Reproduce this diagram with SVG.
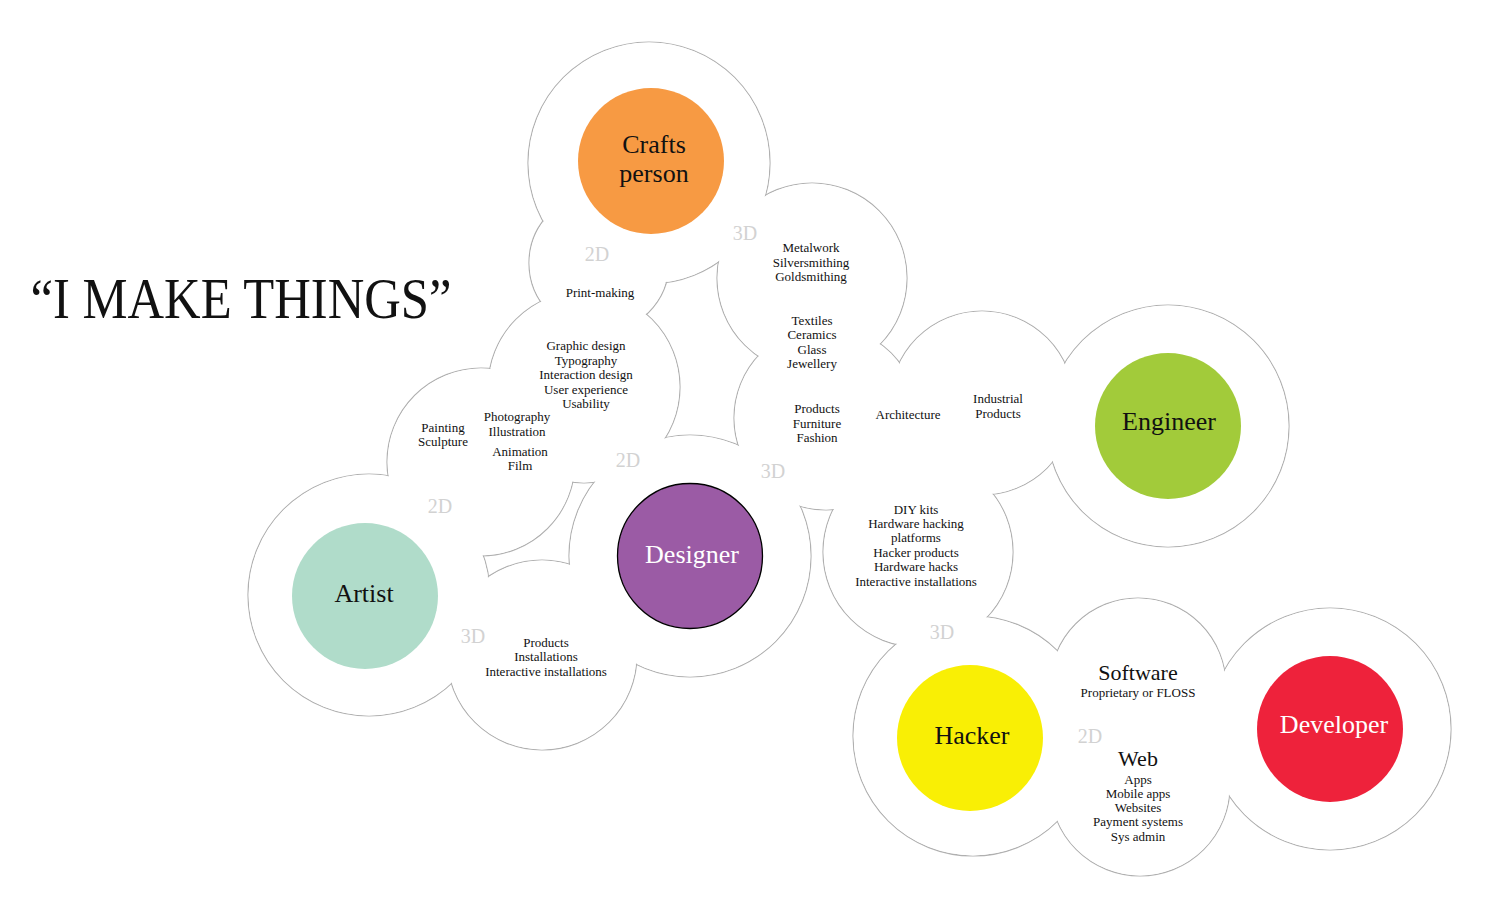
<svg xmlns="http://www.w3.org/2000/svg" width="1497" height="918" viewBox="0 0 1497 918">
<style>
text{font-family:"Liberation Serif","DejaVu Serif",serif;text-anchor:middle;fill:#111}
.o{fill:none;stroke:#b0b0b0;stroke-width:1.2}
.f{fill:#fff;stroke:none}
.lbl{font-size:26px}
.w{fill:#fff}
.sm{font-size:13px}
.md{font-size:22px}
.dim{font-size:20px;fill:#d2d2d2}
</style>
<rect width="1497" height="918" fill="#fff"/>
<g id="cloud">
<g id="cloud-stroke" class="o">
<circle cx="649" cy="163" r="121"/>
<circle cx="369" cy="595" r="121"/>
<circle cx="690" cy="556" r="121"/>
<circle cx="1168" cy="426" r="121"/>
<circle cx="973" cy="736" r="120"/>
<circle cx="1330" cy="729" r="121"/>
<circle cx="599" cy="263" r="70"/>
<circle cx="584" cy="387" r="96"/>
<circle cx="481" cy="462" r="94"/>
<circle cx="812" cy="278" r="95"/>
<circle cx="826" cy="418" r="92"/>
<circle cx="982" cy="403" r="92"/>
<circle cx="918" cy="552" r="95"/>
<circle cx="542" cy="655" r="95"/>
<circle cx="1138" cy="686" r="88"/>
<circle cx="1140" cy="786" r="90"/>
</g>
<g id="cloud-fill" class="f">
<circle cx="649" cy="163" r="120.4"/>
<circle cx="369" cy="595" r="120.4"/>
<circle cx="690" cy="556" r="120.4"/>
<circle cx="1168" cy="426" r="120.4"/>
<circle cx="973" cy="736" r="119.4"/>
<circle cx="1330" cy="729" r="120.4"/>
<circle cx="599" cy="263" r="69.4"/>
<circle cx="584" cy="387" r="95.4"/>
<circle cx="481" cy="462" r="93.4"/>
<circle cx="812" cy="278" r="94.4"/>
<circle cx="826" cy="418" r="91.4"/>
<circle cx="982" cy="403" r="91.4"/>
<circle cx="918" cy="552" r="94.4"/>
<circle cx="542" cy="655" r="94.4"/>
<circle cx="1138" cy="686" r="87.4"/>
<circle cx="1140" cy="786" r="89.4"/>
<circle cx="908" cy="457" r="5"/>
</g>
</g>
<g id="connectors"/>
<g id="title"><text x="241" y="318" font-size="56" textLength="421" lengthAdjust="spacingAndGlyphs">“I MAKE THINGS”</text></g>
<g id="crafts-person">
<circle cx="651" cy="161" r="73" fill="#F79A43"/>
<text class="lbl" x="654" y="153">Crafts</text>
<text class="lbl" x="654" y="182">person</text>
</g>
<g id="artist">
<circle cx="365" cy="596" r="73" fill="#B0DCCA"/>
<text class="lbl" x="364" y="602">Artist</text>
</g>
<g id="designer">
<circle cx="690" cy="556" r="72.5" fill="#9B5BA5" stroke="#000" stroke-width="1.3"/>
<text class="lbl w" x="692" y="563">Designer</text>
</g>
<g id="engineer">
<circle cx="1168" cy="426" r="73" fill="#A2CB3A"/>
<text class="lbl" x="1169" y="430">Engineer</text>
</g>
<g id="hacker">
<circle cx="970" cy="738" r="73" fill="#F9EF05"/>
<text class="lbl" x="972" y="744">Hacker</text>
</g>
<g id="developer">
<circle cx="1330" cy="729" r="73" fill="#EE223B"/>
<text class="lbl w" x="1334" y="733">Developer</text>
</g>
<g id="crafts-2d">
<text class="dim" x="597" y="261">2D</text>
<text class="sm" x="600" y="297">Print-making</text>
</g>
<g id="crafts-3d">
<text class="dim" x="745" y="240">3D</text>
<text class="sm" x="811" y="252">Metalwork</text>
<text class="sm" x="811" y="267">Silversmithing</text>
<text class="sm" x="811" y="281">Goldsmithing</text>
<text class="sm" x="812" y="324.5">Textiles</text>
<text class="sm" x="812" y="339">Ceramics</text>
<text class="sm" x="812" y="353.5">Glass</text>
<text class="sm" x="812" y="368">Jewellery</text>
</g>
<g id="designer-3d">
<text class="sm" x="817" y="413">Products</text>
<text class="sm" x="817" y="427.5">Furniture</text>
<text class="sm" x="817" y="442">Fashion</text>
<text class="dim" x="773" y="478">3D</text>
</g>
<g id="engineer-3d">
<text class="sm" x="908" y="418.5">Architecture</text>
<text class="sm" x="998" y="403">Industrial</text>
<text class="sm" x="998" y="417.5">Products</text>
</g>
<g id="designer-2d">
<text class="sm" x="586" y="350">Graphic design</text>
<text class="sm" x="586" y="364.5">Typography</text>
<text class="sm" x="586" y="379">Interaction design</text>
<text class="sm" x="586" y="393.5">User experience</text>
<text class="sm" x="586" y="408">Usability</text>
<text class="dim" x="628" y="467">2D</text>
</g>
<g id="artist-2d">
<text class="sm" x="443" y="432">Painting</text>
<text class="sm" x="443" y="446">Sculpture</text>
<text class="sm" x="517" y="421">Photography</text>
<text class="sm" x="517" y="436">Illustration</text>
<text class="sm" x="520" y="456">Animation</text>
<text class="sm" x="520" y="470">Film</text>
<text class="dim" x="440" y="513">2D</text>
</g>
<g id="artist-3d">
<text class="dim" x="473" y="643">3D</text>
<text class="sm" x="546" y="646.5">Products</text>
<text class="sm" x="546" y="661">Installations</text>
<text class="sm" x="546" y="675.5">Interactive installations</text>
</g>
<g id="hacker-3d">
<text class="sm" x="916" y="513.5">DIY kits</text>
<text class="sm" x="916" y="528">Hardware hacking</text>
<text class="sm" x="916" y="542">platforms</text>
<text class="sm" x="916" y="556.5">Hacker products</text>
<text class="sm" x="916" y="571">Hardware hacks</text>
<text class="sm" x="916" y="585.5">Interactive installations</text>
<text class="dim" x="942" y="639">3D</text>
</g>
<g id="developer-2d">
<text class="md" x="1138" y="680">Software</text>
<text class="sm" x="1138" y="697">Proprietary or FLOSS</text>
<text class="dim" x="1090" y="743">2D</text>
<text class="md" x="1138" y="766">Web</text>
<text class="sm" x="1138" y="783.5">Apps</text>
<text class="sm" x="1138" y="797.5">Mobile apps</text>
<text class="sm" x="1138" y="812">Websites</text>
<text class="sm" x="1138" y="826">Payment systems</text>
<text class="sm" x="1138" y="840.5">Sys admin</text>
</g>
</svg>
